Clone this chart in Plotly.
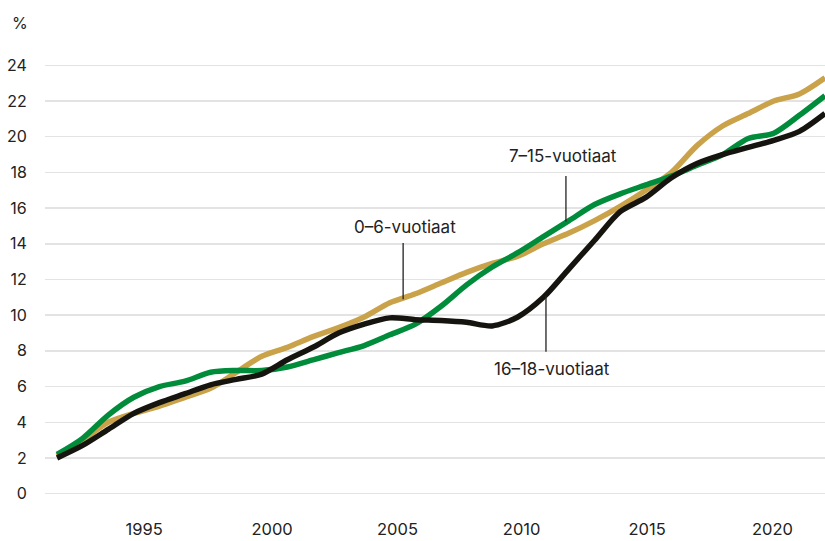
import plotly.graph_objects as go

years = list(range(1992, 2023))

age_0_6 = [2.1, 3.0, 4.0, 4.5, 4.9, 5.4, 5.9, 6.8, 7.7, 8.2, 8.8, 9.3, 9.9, 10.7, 11.2,
           11.8, 12.4, 12.9, 13.3, 14.0, 14.6, 15.3, 16.1, 17.0, 18.0, 19.5, 20.6, 21.3,
           22.0, 22.4, 23.3]
age_7_15 = [2.2, 3.1, 4.4, 5.4, 6.0, 6.3, 6.8, 6.9, 6.9, 7.1, 7.5, 7.9, 8.3, 8.9, 9.5,
            10.5, 11.7, 12.7, 13.5, 14.4, 15.3, 16.2, 16.8, 17.3, 17.8, 18.4, 19.0, 19.9,
            20.2, 21.2, 22.3]
age_16_18 = [2.0, 2.7, 3.6, 4.5, 5.1, 5.6, 6.1, 6.4, 6.7, 7.5, 8.2, 9.0, 9.5, 9.85, 9.75,
             9.7, 9.6, 9.4, 9.9, 11.0, 12.6, 14.2, 15.8, 16.6, 17.7, 18.5, 19.0, 19.4,
             19.8, 20.3, 21.3]

x_tick_labels = ["1995", "2000", "2005", "2010", "2015", "2020"]
x_tick_pos = [1995.4, 2000.4, 2005.3, 2010.15, 2015.05, 2019.95]
y_ticks = list(range(0, 25, 2))

GOLD = "#C9A24A"
GREEN = "#008C3A"
BLACK = "#15140F"
TEXT = "#222222"
FONT = "Inter"

W, H = 825, 541
ML, MR, MT, MB = 45, 0, 60, 41.6
PW, PH = W - ML - MR, H - MT - MB

fig = go.Figure()
for name, vals, col in [("0–6-vuotiaat", age_0_6, GOLD),
                        ("7–15-vuotiaat", age_7_15, GREEN),
                        ("16–18-vuotiaat", age_16_18, BLACK)]:
    fig.add_trace(go.Scatter(x=years, y=vals, mode="lines", name=name,
                             line=dict(color=col, width=5.5, shape="spline", smoothing=0.8),
                             hoverinfo="skip"))

# leader lines
leaders = [
    (2005.52, 14.05, 10.9),
    (2011.88, 17.8, 15.25),
    (2011.1, 11.1, 7.95),
]
for x0, y0, y1 in leaders:
    fig.add_shape(type="line", x0=x0, x1=x0, y0=y0, y1=y1, xref="x", yref="y",
                  line=dict(color=TEXT, width=1.3))

labels = [
    ("0–6-vuotiaat", 2005.6, 14.95),
    ("7–15-vuotiaat", 2011.75, 18.9),
    ("16–18-vuotiaat", 2011.35, 7.0),
]
for txt, x, y in labels:
    fig.add_annotation(x=x, y=y, text=txt, showarrow=False, xref="x", yref="y",
                       font=dict(family=FONT, size=17, color=TEXT))

fig.add_annotation(x=(20 - ML) / PW, y=1 + (MT - 23) / PH, xref="paper", yref="paper",
                   text="%", showarrow=False, xanchor="center", yanchor="middle",
                   font=dict(family=FONT, size=16, color=TEXT))

fig.update_layout(
    width=W, height=H,
    margin=dict(l=ML, r=MR, t=MT, b=MB, pad=0),
    plot_bgcolor="white", paper_bgcolor="white",
    showlegend=False,
    font=dict(family=FONT, size=16, color=TEXT),
    xaxis=dict(range=[1991.53, 2022], showgrid=False, zeroline=False, showline=False,
               tickvals=x_tick_pos, ticktext=x_tick_labels,
               ticks="outside", ticklen=15, tickcolor="rgba(0,0,0,0)",
               tickfont=dict(family=FONT, size=16.5, color=TEXT)),
    yaxis=dict(range=[-0.3, 24.3], tickvals=y_ticks, showgrid=True, gridcolor="#E3E3E3",
               gridwidth=1.5, zeroline=False, showline=False,
               ticks="outside", ticklen=14, tickcolor="rgba(0,0,0,0)",
               tickfont=dict(family=FONT, size=16, color=TEXT)),
)

fig.write_html("out.html", config={"displayModeBar": False, "staticPlot": True},
               post_script="document.body.style.margin='0';document.body.style.overflow='hidden';")
